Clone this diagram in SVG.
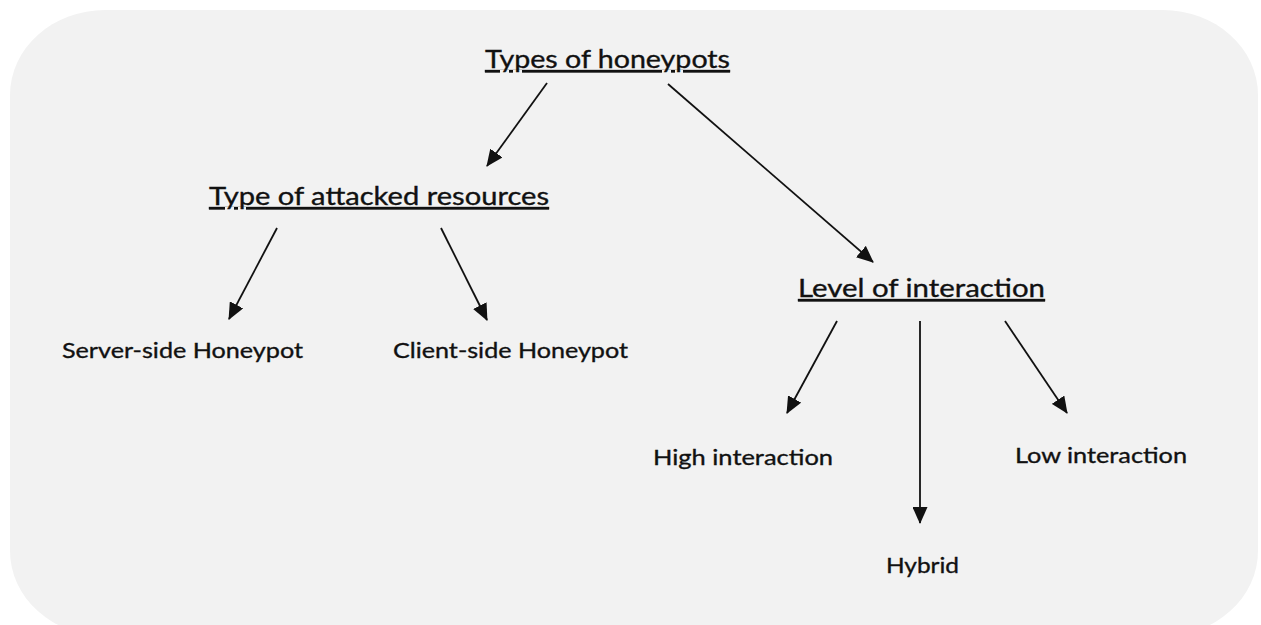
<svg xmlns="http://www.w3.org/2000/svg" width="1261" height="625" viewBox="0 0 1261 625">
<style>
text{font-family:Lato,"Open Sans","Liberation Sans",sans-serif;fill:#111;stroke:#111;stroke-width:0.35;}
.t{font-size:25px;text-decoration:underline;}
.l{font-size:22px;}
.c{stroke:#111;stroke-width:1.8;fill:none;marker-end:url(#ah);}
</style>
<defs>
<marker id="ah" viewBox="0 0 17 15" refX="16" refY="7.5" markerWidth="17" markerHeight="15" markerUnits="userSpaceOnUse" orient="auto">
<path d="M0,0 L17,7.5 L0,15 Z" fill="#111"/>
</marker>
</defs>
<rect x="0" y="0" width="1261" height="625" fill="#ffffff"/>
<rect id="background" x="10" y="10" width="1248" height="626" rx="95" ry="85" fill="#f2f2f2"/>
<g id="connectors">
<line class="c" x1="547" y1="83" x2="487" y2="166"/>
<line class="c" x1="668" y1="84" x2="873" y2="262"/>
<line class="c" x1="277" y1="228" x2="229" y2="319"/>
<line class="c" x1="441" y1="228" x2="487" y2="320"/>
<line class="c" x1="837" y1="321" x2="787" y2="413"/>
<line class="c" x1="920" y1="321" x2="920" y2="523"/>
<line class="c" x1="1005" y1="321" x2="1067" y2="413"/>
</g>
<g id="n-root"><text class="t" x="485" y="68" textLength="245" lengthAdjust="spacingAndGlyphs">Types of honeypots</text></g>
<g id="n-resources"><text class="t" x="209" y="205" textLength="340" lengthAdjust="spacingAndGlyphs">Type of attacked resources</text></g>
<g id="n-level"><text class="t" x="798" y="297" textLength="247" lengthAdjust="spacingAndGlyphs">Level of interaction</text></g>
<g id="n-server"><text class="l" x="62" y="358" textLength="241" lengthAdjust="spacingAndGlyphs">Server-side Honeypot</text></g>
<g id="n-client"><text class="l" x="393" y="358" textLength="235" lengthAdjust="spacingAndGlyphs">Client-side Honeypot</text></g>
<g id="n-high"><text class="l" x="653" y="465" textLength="180" lengthAdjust="spacingAndGlyphs">High interaction</text></g>
<g id="n-low"><text class="l" x="1015" y="463" textLength="172" lengthAdjust="spacingAndGlyphs">Low interaction</text></g>
<g id="n-hybrid"><text class="l" x="886" y="573" textLength="73" lengthAdjust="spacingAndGlyphs">Hybrid</text></g>
</svg>
